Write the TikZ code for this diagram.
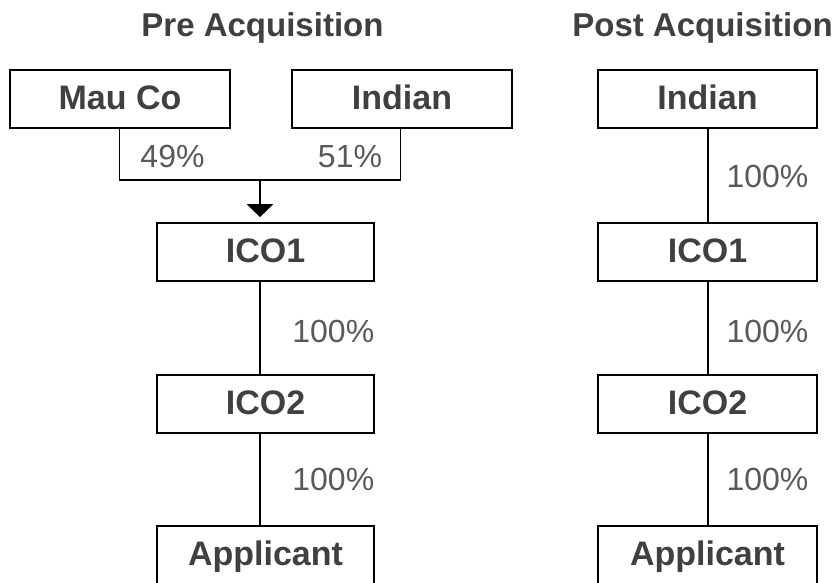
\documentclass[tikz,border=0pt]{standalone}
\usepackage{fontspec}
\setmainfont{Liberation Sans}
\usetikzlibrary{arrows.meta}
\definecolor{labelgray}{HTML}{404040}
\definecolor{pctgray}{HTML}{595959}
\tikzset{
  entity/.style={draw=black, line width=1.6pt, rectangle, inner sep=0pt,
    minimum width=#1, minimum height=58pt, text height=24.5pt, text depth=3pt,
    text=labelgray, font=\fontsize{34}{40}\selectfont\bfseries},
  heading/.style={anchor=base, inner sep=0pt, text=labelgray,
    font=\fontsize{33}{40}\selectfont\bfseries},
  pct/.style={anchor=base, inner sep=0pt, text=pctgray,
    font=\fontsize{32}{38}\selectfont},
  link/.style={draw=black, line width=1.6pt},
  feed/.style={link, -{Triangle[width=26pt,length=13pt]}, shorten >=5pt},
}
\begin{document}
\begin{tikzpicture}[x=1pt,y=-1pt]
\useasboundingbox (0,0) rectangle (835,583);

% headings
\node[heading] (preT)  at (262.5,37) {Pre Acquisition};
\node[heading] (postT) at (702.5,37) {Post Acquisition};

% pre-acquisition structure
\node[entity=220pt] (mauco)  at (120,99)    {Mau Co};
\node[entity=220pt] (indA)   at (402,99)    {Indian};
\node[entity=217pt] (icoA)   at (265.5,252) {ICO1};
\node[entity=217pt] (icoB)   at (265.5,404) {ICO2};
\node[entity=217pt] (appA)   at (265.5,554.8) {Applicant};

\coordinate (mauDrop) at (119.5,180);
\coordinate (indDrop) at (400.5,180);
\coordinate (trunk)   at (260,180);
\coordinate (spineA)  at (260,300);

\draw[link] (mauco.south -| mauDrop) -- (mauDrop) -- (indDrop) -- (indA.south -| indDrop);
\draw[feed] (trunk) -- (trunk |- icoA.north);
\draw[link] (icoA.south -| spineA) -- (icoB.north -| spineA);
\draw[link] (icoB.south -| spineA) -- (appA.north -| spineA);

\node[pct] (p49) at (172.5,167) {49\%};
\node[pct] (p51) at (350,167)   {51\%};
\node[pct] (pA1) at (333.3,342) {100\%};
\node[pct] (pA2) at (333.3,490) {100\%};

% post-acquisition structure
\node[entity=219pt] (indB) at (707.5,99)    {Indian};
\node[entity=219pt] (icoC) at (707.5,252)   {ICO1};
\node[entity=219pt] (icoD) at (707.5,404)   {ICO2};
\node[entity=219pt] (appB) at (707.5,554.8) {Applicant};

\coordinate (spineB) at (708,300);
\draw[link] (indB.south -| spineB) -- (icoC.north -| spineB);
\draw[link] (icoC.south -| spineB) -- (icoD.north -| spineB);
\draw[link] (icoD.south -| spineB) -- (appB.north -| spineB);

\node[pct] (pB1) at (767.5,187) {100\%};
\node[pct] (pB2) at (767.5,342) {100\%};
\node[pct] (pB3) at (767.5,490) {100\%};
\end{tikzpicture}
\end{document}
